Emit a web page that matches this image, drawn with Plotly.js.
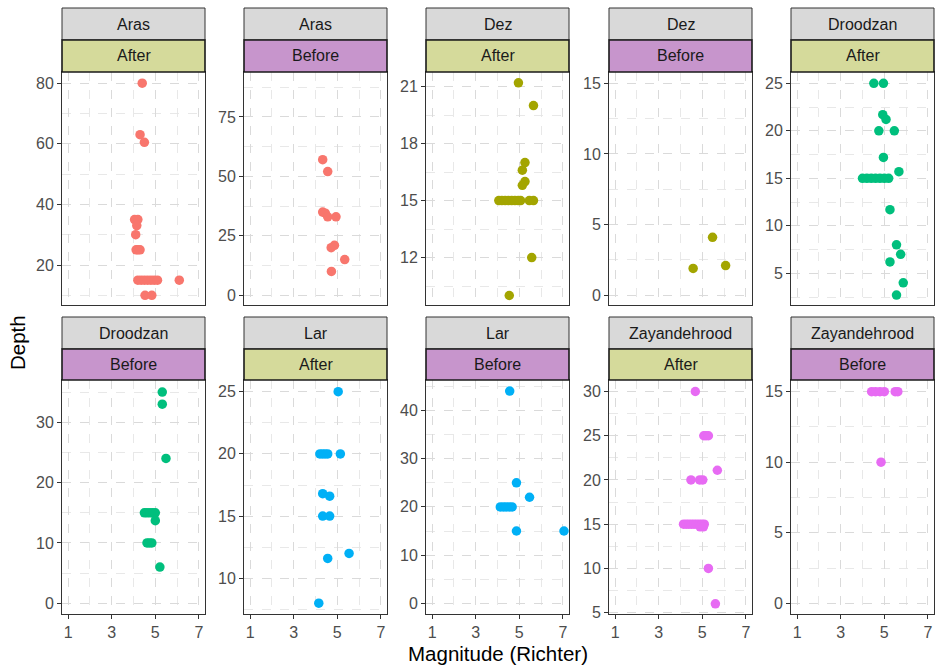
<!DOCTYPE html>
<html>
<head>
<meta charset="utf-8">
<script src="https://cdn.plot.ly/plotly-3.0.1.min.js"></script>
<style>html,body{margin:0;padding:0;background:#fff;}#chart{width:936px;height:667px;}</style>
</head>
<body>
<div id="chart"></div>
<script>
// ---- data ----
const dams = ["Aras", "Aras", "Dez", "Dez", "Droodzan", "Droodzan", "Lar", "Lar", "Zayandehrood", "Zayandehrood"];
const periods = ["After", "Before", "After", "Before", "After", "Before", "After", "Before", "After", "Before"];

const arasAfterMag   = [4.4, 4.3, 4.5, 4.05, 4.2, 4.15, 4.1, 4.12, 4.2, 4.3, 4.2, 4.35, 4.5, 4.65, 4.8, 4.95, 5.1, 6.1, 4.53, 4.84];
const arasAfterDepth = [80, 63, 60.5, 35, 35, 33, 30, 25, 25, 25, 15, 15, 15, 15, 15, 15, 15, 15, 10, 10];

const arasBeforeMag   = [4.33, 4.56, 4.33, 4.45, 4.56, 4.94, 4.72, 4.87, 5.34, 4.73];
const arasBeforeDepth = [57, 52, 35, 34.5, 33, 33, 20, 21, 15, 10];

const dezAfterMag   = [4.96, 5.65, 5.26, 5.14, 5.26, 5.14, 4.06, 4.2, 4.35, 4.5, 4.65, 4.8, 4.95, 5.06, 5.46, 5.65, 5.57, 4.54];
const dezAfterDepth = [21.2, 20, 17, 16.6, 16, 15.8, 15, 15, 15, 15, 15, 15, 15, 15, 15, 15, 12, 10];

const dezBeforeMag   = [5.47, 4.58, 6.07];
const dezBeforeDepth = [4.1, 1.9, 2.1];

const droodzanAfterMag   = [4.52, 4.96, 4.93, 5.08, 4.75, 5.46, 4.96, 4.0, 4.2, 4.4, 4.6, 4.8, 5.0, 5.2, 5.67, 5.26, 5.56, 5.75, 5.26, 5.87, 5.56];
const droodzanAfterDepth = [25, 25, 21.7, 21.2, 20, 20, 17.2, 15, 15, 15, 15, 15, 15, 15, 15.7, 11.7, 8, 7, 6.2, 4, 2.7];

const droodzanBeforeMag   = [5.32, 5.32, 5.49, 4.5, 4.62, 4.75, 4.88, 5.0, 5.0, 4.62, 4.73, 4.84, 5.21];
const droodzanBeforeDepth = [35, 33, 24, 15, 15, 15, 15, 15, 13.7, 10, 10, 10, 6];

const larAfterMag   = [5.04, 4.2, 4.32, 4.44, 4.56, 5.14, 4.33, 4.65, 4.33, 4.65, 4.56, 5.54, 4.15];
const larAfterDepth = [25, 20, 20, 20, 20, 20, 16.8, 16.6, 15, 15, 11.6, 12, 8];

const larBeforeMag   = [4.56, 4.87, 5.47, 4.13, 4.27, 4.4, 4.54, 4.67, 4.87, 7.05];
const larBeforeDepth = [44, 25, 22, 20, 20, 20, 20, 20, 15, 15];

const zayAfterMag   = [4.68, 5.07, 5.17, 5.28, 5.69, 4.48, 4.88, 5.02, 4.14, 4.26, 4.38, 4.5, 4.62, 4.74, 4.86, 4.98, 5.09, 4.9, 5.05, 5.28, 5.6];
const zayAfterDepth = [30, 25, 25, 25, 21.1, 20, 20, 20, 15, 15, 15, 15, 15, 15, 15, 15, 15, 14.7, 14.7, 10, 6];

const zayBeforeMag   = [4.42, 4.6, 4.8, 5.0, 5.5, 5.62, 4.85];
const zayBeforeDepth = [15, 15, 15, 15, 15, 15, 10];

const xTicks = [1, 3, 5, 7];
const xTitle = "Magnitude (Richter)";
const yTitle = "Depth";

// ---- styling ----
const damColors = {Aras: "#F8766D", Dez: "#A3A500", Droodzan: "#00BF7D", Lar: "#00B0F6", Zayandehrood: "#E76BF3"};
const periodColors = {After: "#D5DA9B", Before: "#C795CC"};
const panelData = [
  [arasAfterMag, arasAfterDepth], [arasBeforeMag, arasBeforeDepth],
  [dezAfterMag, dezAfterDepth], [dezBeforeMag, dezBeforeDepth],
  [droodzanAfterMag, droodzanAfterDepth], [droodzanBeforeMag, droodzanBeforeDepth],
  [larAfterMag, larAfterDepth], [larBeforeMag, larBeforeDepth],
  [zayAfterMag, zayAfterDepth], [zayBeforeMag, zayBeforeDepth]
];
const yRanges = [[6.8, 83.7], [-4.1, 93.9], [9.5, 21.77], [-0.69, 15.8], [1.66, 26.19],
                 [-1.77, 37.0], [7.13, 25.94], [-2.2, 46.3], [4.85, 31.3], [-0.76, 15.83]];
const yDticks = [20, 25, 3, 5, 5, 10, 5, 10, 5, 5];

const W = 936, H = 667;
const colLeft = [62, 244, 426, 609, 791];
const panelW = 143;
const rows = [{stripTop: 8, plotTop: 72, plotBottom: 305}, {stripTop: 317, plotTop: 380, plotBottom: 614}];
const font = "Liberation Sans, Arial, sans-serif";

const traces = [];
const layout = {
  width: W, height: H,
  margin: {l: 0, r: 0, t: 0, b: 0},
  paper_bgcolor: "#fff", plot_bgcolor: "#fff",
  showlegend: false,
  font: {family: font},
  shapes: [], annotations: []
};

for (let i = 0; i < 10; i++) {
  const r = Math.floor(i / 5), c = i % 5;
  const row = rows[r];
  const x0 = colLeft[c], x1 = colLeft[c] + panelW;
  const sfx = i === 0 ? "" : String(i + 1);
  traces.push({
    type: "scatter", mode: "markers",
    x: panelData[i][0], y: panelData[i][1],
    xaxis: "x" + sfx, yaxis: "y" + sfx,
    marker: {color: damColors[dams[i]], size: 9.5, line: {width: 0}},
    cliponaxis: false, hoverinfo: "x+y"
  });
  const grid = {showgrid: true, gridcolor: "#DADADA", gridwidth: 1, griddash: "dash"};
  const minor = {showgrid: true, gridcolor: "#E6E6E6", gridwidth: 0.9, griddash: "dash"};
  layout["xaxis" + sfx] = Object.assign({
    domain: [x0 / W, x1 / W], anchor: "y" + sfx,
    range: [0.72, 7.28], tickmode: "array", tickvals: xTicks,
    minor: Object.assign({dtick: 1, tick0: 0}, minor),
    showline: true, mirror: true, linecolor: "#333333", linewidth: 1,
    zeroline: false,
    ticks: r === 1 ? "outside" : "", ticklen: 4, tickcolor: "#333333", tickwidth: 1,
    showticklabels: r === 1,
    tickfont: {size: 16, color: "#4D4D4D", family: font}
  }, grid);
  layout["yaxis" + sfx] = Object.assign({
    domain: [1 - row.plotBottom / H, 1 - row.plotTop / H], anchor: "x" + sfx,
    range: yRanges[i], tickmode: "linear", tick0: 0, dtick: yDticks[i],
    minor: Object.assign({dtick: yDticks[i] / 2, tick0: 0}, minor),
    showline: true, mirror: true, linecolor: "#333333", linewidth: 1,
    zeroline: false,
    ticks: "outside", ticklen: 4, tickcolor: "#333333", tickwidth: 1,
    tickfont: {size: 16, color: "#4D4D4D", family: font}
  }, grid);
  // strips
  const sTop = row.stripTop, sMid = row.stripTop + 32, sBot = row.plotTop;
  layout.shapes.push({type: "rect", xref: "paper", yref: "paper",
    x0: x0 / W, x1: x1 / W, y0: 1 - sMid / H, y1: 1 - sTop / H,
    fillcolor: "#D9D9D9", line: {color: "#333333", width: 1}, layer: "above"});
  layout.shapes.push({type: "rect", xref: "paper", yref: "paper",
    x0: x0 / W, x1: x1 / W, y0: 1 - sBot / H, y1: 1 - sMid / H,
    fillcolor: periodColors[periods[i]], line: {color: "#1A1A1A", width: 1.6}, layer: "above"});
  layout.annotations.push({xref: "paper", yref: "paper", x: (x0 + x1) / 2 / W, y: 1 - (sTop + sMid) / 2 / H,
    text: dams[i], showarrow: false, xanchor: "center", yanchor: "middle",
    font: {size: 16, color: "#1A1A1A", family: font}});
  layout.annotations.push({xref: "paper", yref: "paper", x: (x0 + x1) / 2 / W, y: 1 - (sMid + sBot) / 2 / H,
    text: periods[i], showarrow: false, xanchor: "center", yanchor: "middle",
    font: {size: 16, color: "#1A1A1A", family: font}});
}

layout.annotations.push({xref: "paper", yref: "paper", x: 498 / W, y: 1 - 653 / H,
  text: xTitle, showarrow: false, xanchor: "center", yanchor: "middle",
  font: {size: 20.5, color: "#000000", family: font}});
layout.annotations.push({xref: "paper", yref: "paper", x: 18 / W, y: 1 - 343 / H,
  text: yTitle, showarrow: false, xanchor: "center", yanchor: "middle", textangle: -90,
  font: {size: 20.5, color: "#000000", family: font}});

Plotly.newPlot("chart", traces, layout, {staticPlot: true, displayModeBar: false});
</script>
</body>
</html>
